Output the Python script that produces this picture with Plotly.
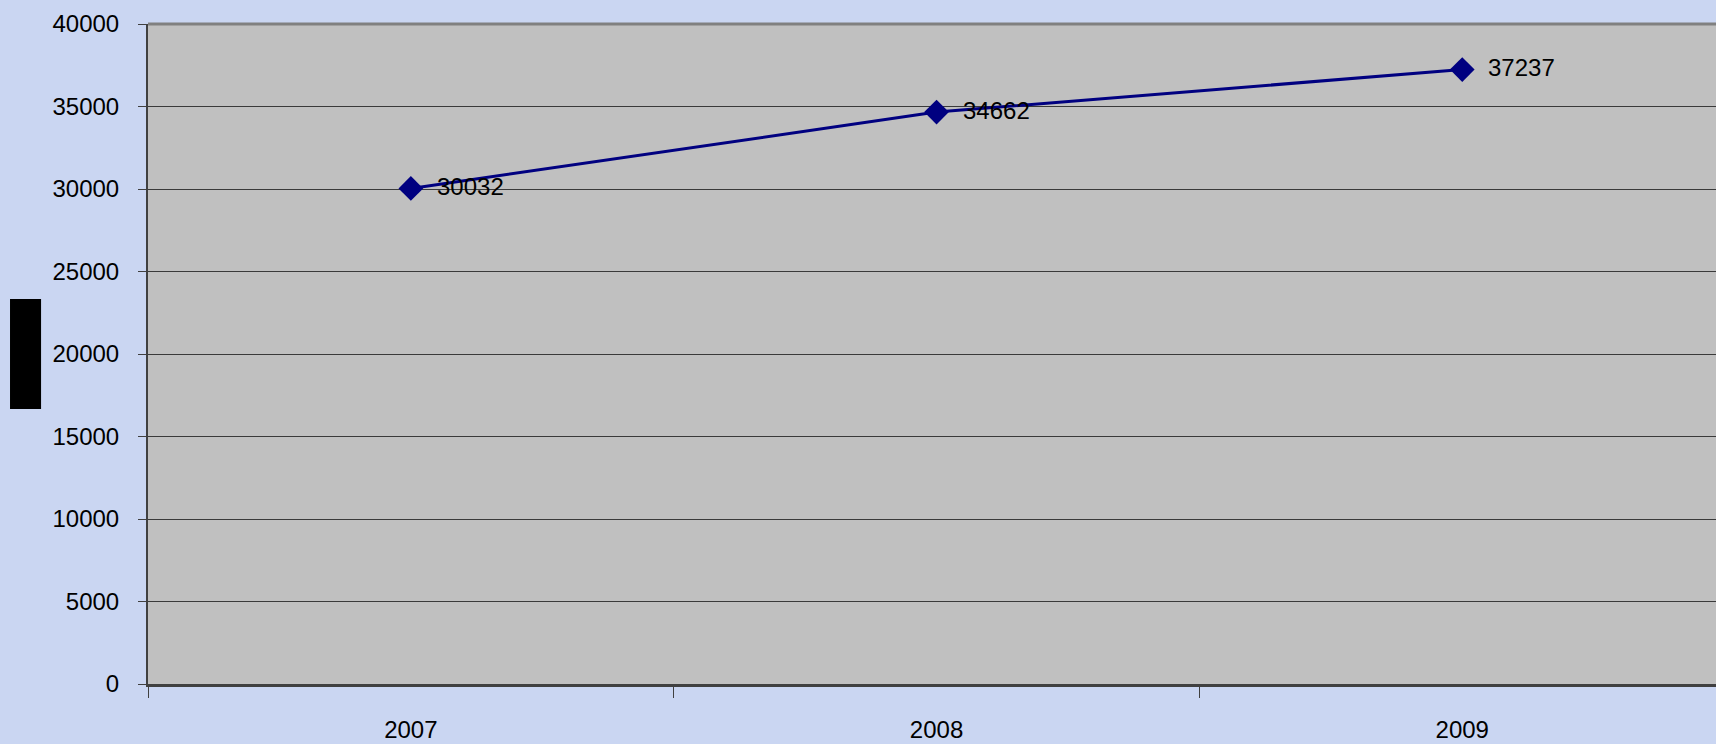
import plotly.graph_objects as go

years = ["2007", "2008", "2009"]
values = [30032, 34662, 37237]
y_ticks = [0, 5000, 10000, 15000, 20000, 25000, 30000, 35000, 40000]

W, H = 1716, 744
ML, MT, MB, MR = 148, 24, 60, 0
FONT = "Liberation Sans, Arial, sans-serif"

fig = go.Figure()
fig.add_trace(go.Scatter(
    x=years, y=values, mode="lines+markers",
    line=dict(color="#000080", width=3),
    marker=dict(symbol="diamond", size=19, color="#000080"),
    showlegend=False, hoverinfo="skip",
))

for i, v in enumerate(values):
    fig.add_annotation(x=i, y=v, text=str(v), showarrow=False,
                       xref="x", yref="y",
                       xanchor="left", yanchor="middle", xshift=24, yshift=2,
                       font=dict(family=FONT, size=24, color="black"))

# plot-area top border
fig.add_shape(type="line", xref="paper", yref="paper", x0=0, x1=1, y0=1, y1=1,
              line=dict(color="#808080", width=3))
# black box where the axis title sits
fig.add_shape(type="rect", xref="paper", yref="paper",
              x0=-0.088, x1=-0.0682, y0=0.4167, y1=0.5833,
              fillcolor="black", line=dict(width=0))

plot_w = W - ML - MR
cat_w = 525.7
fig.update_layout(
    width=W, height=H,
    margin=dict(l=ML, r=MR, t=MT, b=MB, pad=0),
    paper_bgcolor="#cad6f2",
    plot_bgcolor="#c0c0c0",
    font=dict(family=FONT, size=24, color="black"),
    xaxis=dict(
        type="category",
        range=[-0.5, -0.5 + plot_w / cat_w],
        tickson="boundaries",
        ticks="outside", ticklen=11, tickwidth=1, tickcolor="#404040",
        showgrid=False,
        showline=True, linecolor="#404040", linewidth=3,
        ticklabelstandoff=22,
        tickfont=dict(family=FONT, size=24, color="black"),
        zeroline=False,
    ),
    yaxis=dict(
        range=[0, 40000],
        tickvals=y_ticks,
        ticktext=[str(t) for t in y_ticks],
        ticks="outside", ticklen=8, tickwidth=1, tickcolor="#404040",
        showgrid=True, gridcolor="#3a3a3a", gridwidth=1,
        showline=True, linecolor="#404040", linewidth=2,
        zeroline=False,
        ticklabelstandoff=14,
        tickfont=dict(family=FONT, size=24, color="black"),
    ),
)

fig.write_html(
    "out.html",
    config={"displayModeBar": False},
    post_script="document.body.style.margin='0';document.body.style.overflow='hidden';",
)
